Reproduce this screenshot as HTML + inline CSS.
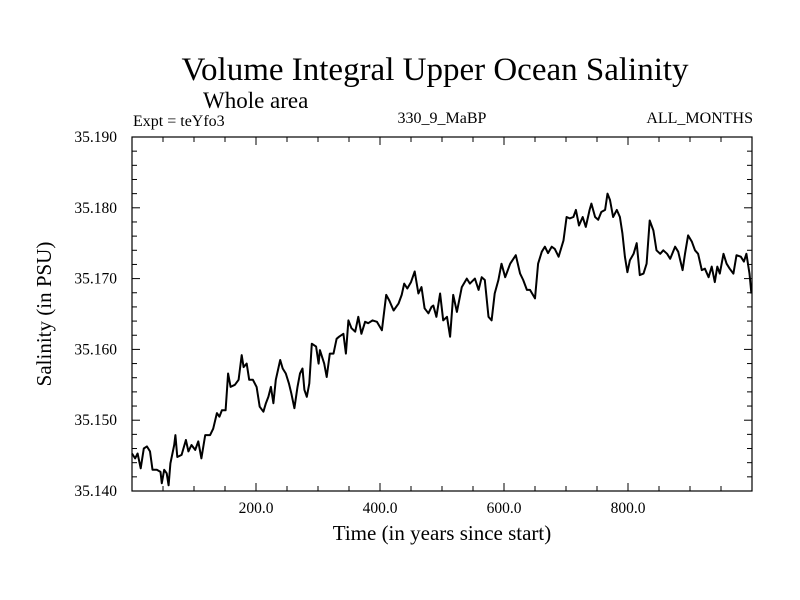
<!DOCTYPE html>
<html><head><meta charset="utf-8"><style>
body{margin:0;background:#fff}
svg{display:block}
text{font-family:"Liberation Serif",serif;fill:#000}
</style></head><body>
<svg id="chart" width="800" height="600">
<text x="435" y="80" font-size="33" text-anchor="middle">Volume Integral Upper Ocean Salinity</text>
<text x="203" y="108" font-size="23">Whole area</text>
<text x="133" y="126" font-size="16">Expt = teYfo3</text>
<text x="442" y="123" font-size="16" text-anchor="middle">330_9_MaBP</text>
<text x="753" y="123" font-size="16" text-anchor="end">ALL_MONTHS</text>
<text transform="translate(51,314) rotate(-90)" font-size="21" text-anchor="middle">Salinity (in PSU)</text>
<text x="442" y="540" font-size="21" text-anchor="middle">Time (in years since start)</text>
<g id="axes"></g>
<g id="series"></g>
<rect x="132" y="137" width="620" height="354" fill="none" stroke="#000" stroke-width="1.2"/>
</svg>
<script>
const years=[0,5,9,14,19,24,29,33,40,46,48,52,56,59,62,68,70,73,80,87,91,96,102,107,112,118,126,131,137,141,145,151,155,159,166,172,177,180,185,189,195,201,206,212,216,220,224,228,232,239,243,248,253,257,262,267,271,275,278,282,286,290,297,301,303,310,314,319,325,330,334,341,345,349,354,360,365,370,376,381,388,395,403,410,415,422,430,435,439,444,450,456,462,467,472,478,483,486,491,497,502,508,513,518,524,532,540,545,553,559,564,569,575,580,585,591,596,602,610,619,626,631,637,642,650,655,661,666,671,677,682,688,696,701,706,712,716,721,727,732,738,741,747,752,757,763,767,771,776,782,787,791,795,799,803,809,814,819,825,830,835,841,846,852,857,863,868,876,881,888,892,897,903,908,913,919,924,930,935,940,944,948,954,959,964,970,975,982,987,991,996,999];
const salinity=[35.1453,35.1446,35.1453,35.1432,35.1460,35.1463,35.1456,35.1430,35.1430,35.1427,35.1411,35.1430,35.1425,35.1408,35.1439,35.1465,35.1479,35.1448,35.1451,35.1472,35.1456,35.1465,35.1458,35.1470,35.1446,35.1479,35.1479,35.1488,35.1510,35.1505,35.1514,35.1514,35.1566,35.1547,35.1550,35.1557,35.1592,35.1575,35.1580,35.1557,35.1557,35.1547,35.1519,35.1512,35.1524,35.1533,35.1547,35.1524,35.1557,35.1585,35.1573,35.1566,35.1552,35.1538,35.1517,35.1547,35.1566,35.1573,35.1543,35.1533,35.1552,35.1608,35.1604,35.1580,35.1599,35.1580,35.1561,35.1594,35.1594,35.1615,35.1618,35.1622,35.1594,35.1641,35.1630,35.1625,35.1646,35.1622,35.1639,35.1637,35.1641,35.1639,35.1627,35.1677,35.1669,35.1655,35.1665,35.1677,35.1693,35.1686,35.1695,35.1710,35.1679,35.1688,35.1658,35.1651,35.1660,35.1662,35.1646,35.1679,35.1641,35.1646,35.1618,35.1677,35.1653,35.1688,35.1700,35.1693,35.1700,35.1684,35.1702,35.1698,35.1646,35.1641,35.1679,35.1698,35.1721,35.1702,35.1721,35.1733,35.1707,35.1698,35.1684,35.1684,35.1672,35.1721,35.1738,35.1745,35.1736,35.1745,35.1742,35.1731,35.1754,35.1787,35.1785,35.1787,35.1797,35.1775,35.1787,35.1773,35.1797,35.1806,35.1787,35.1783,35.1794,35.1797,35.1820,35.1811,35.1787,35.1797,35.1787,35.1764,35.1731,35.1709,35.1726,35.1735,35.1750,35.1705,35.1707,35.1721,35.1782,35.1768,35.1740,35.1735,35.1740,35.1735,35.1728,35.1745,35.1738,35.1712,35.1735,35.1761,35.1752,35.1740,35.1735,35.1712,35.1714,35.1702,35.1717,35.1695,35.1717,35.1707,35.1735,35.1721,35.1714,35.1707,35.1733,35.1731,35.1724,35.1735,35.1707,35.1679];
const xTickValues=[200,400,600,800];
const xTickLabels=["200.0","400.0","600.0","800.0"];
const yTickValues=[35.14,35.15,35.16,35.17,35.18,35.19];
const yTickLabels=["35.140","35.150","35.160","35.170","35.180","35.190"];

const X0=132,X1=752,Y0=491,Y1=137,XMIN=0,XMAX=1000,YMIN=35.14,YMAX=35.19;
const xs=v=>X0+(v-XMIN)/(XMAX-XMIN)*(X1-X0);
const ys=v=>Y0-(v-YMIN)/(YMAX-YMIN)*(Y0-Y1);
const NS='http://www.w3.org/2000/svg';
const axes=document.getElementById('axes');
function mk(tag,attrs,parent){const e=document.createElementNS(NS,tag);for(const k in attrs)e.setAttribute(k,attrs[k]);parent.appendChild(e);return e;}
for(let v=50;v<1000;v+=50){
  const major=v%200===0;const L=major?8:5;const x=xs(v);
  const t1=mk('line',{x1:x,x2:x,y1:Y0,y2:Y0-L,stroke:'#000','stroke-width':1},axes);
  
  
  const t2=mk('line',{x1:x,x2:x,y1:Y1,y2:Y1+L,stroke:'#000','stroke-width':1},axes);
  
  
}
xTickValues.forEach((v,i)=>{
  const t=mk('text',{x:xs(v),y:513,'font-size':15.5,'text-anchor':'middle'},axes);
  t.textContent=xTickLabels[i];
  
  
});
for(let k=1;k<25;k++){
  const v=YMIN+k*0.002;const major=k%5===0;const L=major?8:5;const y=ys(v);
  const t1=mk('line',{x1:X0,x2:X0+L,y1:y,y2:y,stroke:'#000','stroke-width':1},axes);
  
  
  const t2=mk('line',{x1:X1,x2:X1-L,y1:y,y2:y,stroke:'#000','stroke-width':1},axes);
  
  
}
yTickValues.forEach((v,i)=>{
  const t=mk('text',{x:117,y:ys(v)+5,'font-size':15.5,'text-anchor':'end'},axes);
  t.textContent=yTickLabels[i];
  
  
});
const d=years.map((yr,i)=>(i?'L':'M')+xs(yr).toFixed(1)+' '+ys(salinity[i]).toFixed(1)).join(' ');
const p=mk('path',{d:d,fill:'none',stroke:'#000','stroke-width':2,'stroke-linejoin':'round'},document.getElementById('series'));


</script>
</body></html>
